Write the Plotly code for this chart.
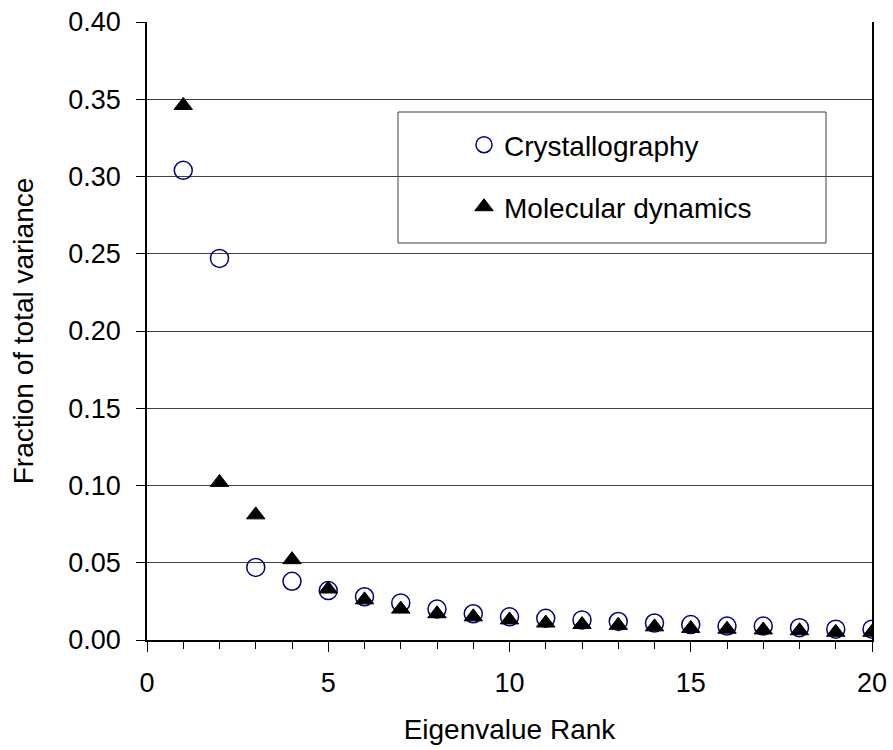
import plotly.graph_objects as go

ranks = list(range(1, 21))
crystallography = [0.304, 0.247, 0.047, 0.038, 0.032, 0.028, 0.024, 0.020, 0.017, 0.015,
                   0.014, 0.013, 0.012, 0.011, 0.010, 0.009, 0.009, 0.008, 0.007, 0.007]
molecular_dynamics = [0.346, 0.102, 0.081, 0.052, 0.033, 0.026, 0.020, 0.017, 0.015, 0.013,
                      0.011, 0.010, 0.0095, 0.0085, 0.0075, 0.007, 0.0065, 0.006, 0.005, 0.005]
x_ticks = [0, 5, 10, 15, 20]
y_ticks = [0.00, 0.05, 0.10, 0.15, 0.20, 0.25, 0.30, 0.35, 0.40]

FONT = "Liberation Sans, Arial, sans-serif"
W, H = 893, 750
L, R, T, B = 147, 21, 22, 110
pw, ph = W - L - R, H - T - B

def px_x(p):
    return (p - L) / pw

def px_y(p):
    return (H - B - p) / ph

fig = go.Figure()
fig.add_trace(go.Scatter(
    x=ranks, y=crystallography, mode="markers", name="Crystallography",
    marker=dict(symbol="circle-open", size=18, color="#000080", line=dict(width=1.5)),
    legend="legend",
))
fig.add_trace(go.Scatter(
    x=ranks, y=molecular_dynamics, mode="markers", name="Molecular dynamics",
    marker=dict(symbol="triangle-up", size=16, color="black", line=dict(width=1, color="black")),
    legend="legend2",
))

fig.add_shape(type="rect", xref="paper", yref="paper",
              x0=px_x(398), x1=px_x(826), y0=px_y(243), y1=px_y(112),
              fillcolor="white", line=dict(color="#404040", width=1), layer="below")

legend_common = dict(font=dict(family=FONT, size=28, color="black"),
                     bgcolor="rgba(0,0,0,0)", borderwidth=0,
                     xanchor="left", yanchor="middle", itemsizing="trace")

fig.update_layout(
    width=W, height=H,
    margin=dict(l=L, r=R, t=T, b=B, autoexpand=False),
    paper_bgcolor="white", plot_bgcolor="white",
    font=dict(family=FONT, size=27, color="black"),
    showlegend=True,
    legend=dict(x=px_x(464), y=px_y(145), **legend_common),
    legend2=dict(x=px_x(464), y=px_y(207), **legend_common),
    xaxis=dict(
        range=[0, 20], tickvals=x_ticks, ticks="outside", ticklen=10, tickcolor="black",
        tickwidth=1, showline=True, linecolor="black", linewidth=1.5, showgrid=False,
        zeroline=False, ticklabelstandoff=8,
        minor=dict(dtick=1, tick0=0, ticks="outside", ticklen=7, tickcolor="black", tickwidth=1),
        title=dict(text="Eigenvalue Rank", font=dict(size=28), standoff=22),
        tickfont=dict(size=27),
    ),
    xaxis2=dict(
        range=[0, 20], overlaying="x", anchor="y", side="bottom", dtick=1, tick0=0,
        ticks="inside", ticklen=6, tickcolor="black", tickwidth=1,
        showticklabels=False, showgrid=False, zeroline=False, showline=False,
    ),
    yaxis=dict(
        range=[0, 0.40], tickvals=y_ticks, tickformat=".2f", ticks="outside", ticklen=9,
        tickcolor="black", showline=True, linecolor="black", linewidth=1.5, mirror=True,
        showgrid=True, gridcolor="#404040", gridwidth=1, zeroline=False,
        ticklabelstandoff=10,
        title=dict(text="Fraction of total variance", font=dict(size=28), standoff=26),
        tickfont=dict(size=27),
    ),
)

fig.write_html("out.html", config={"displayModeBar": False},
               post_script="document.body.style.margin='0';")
